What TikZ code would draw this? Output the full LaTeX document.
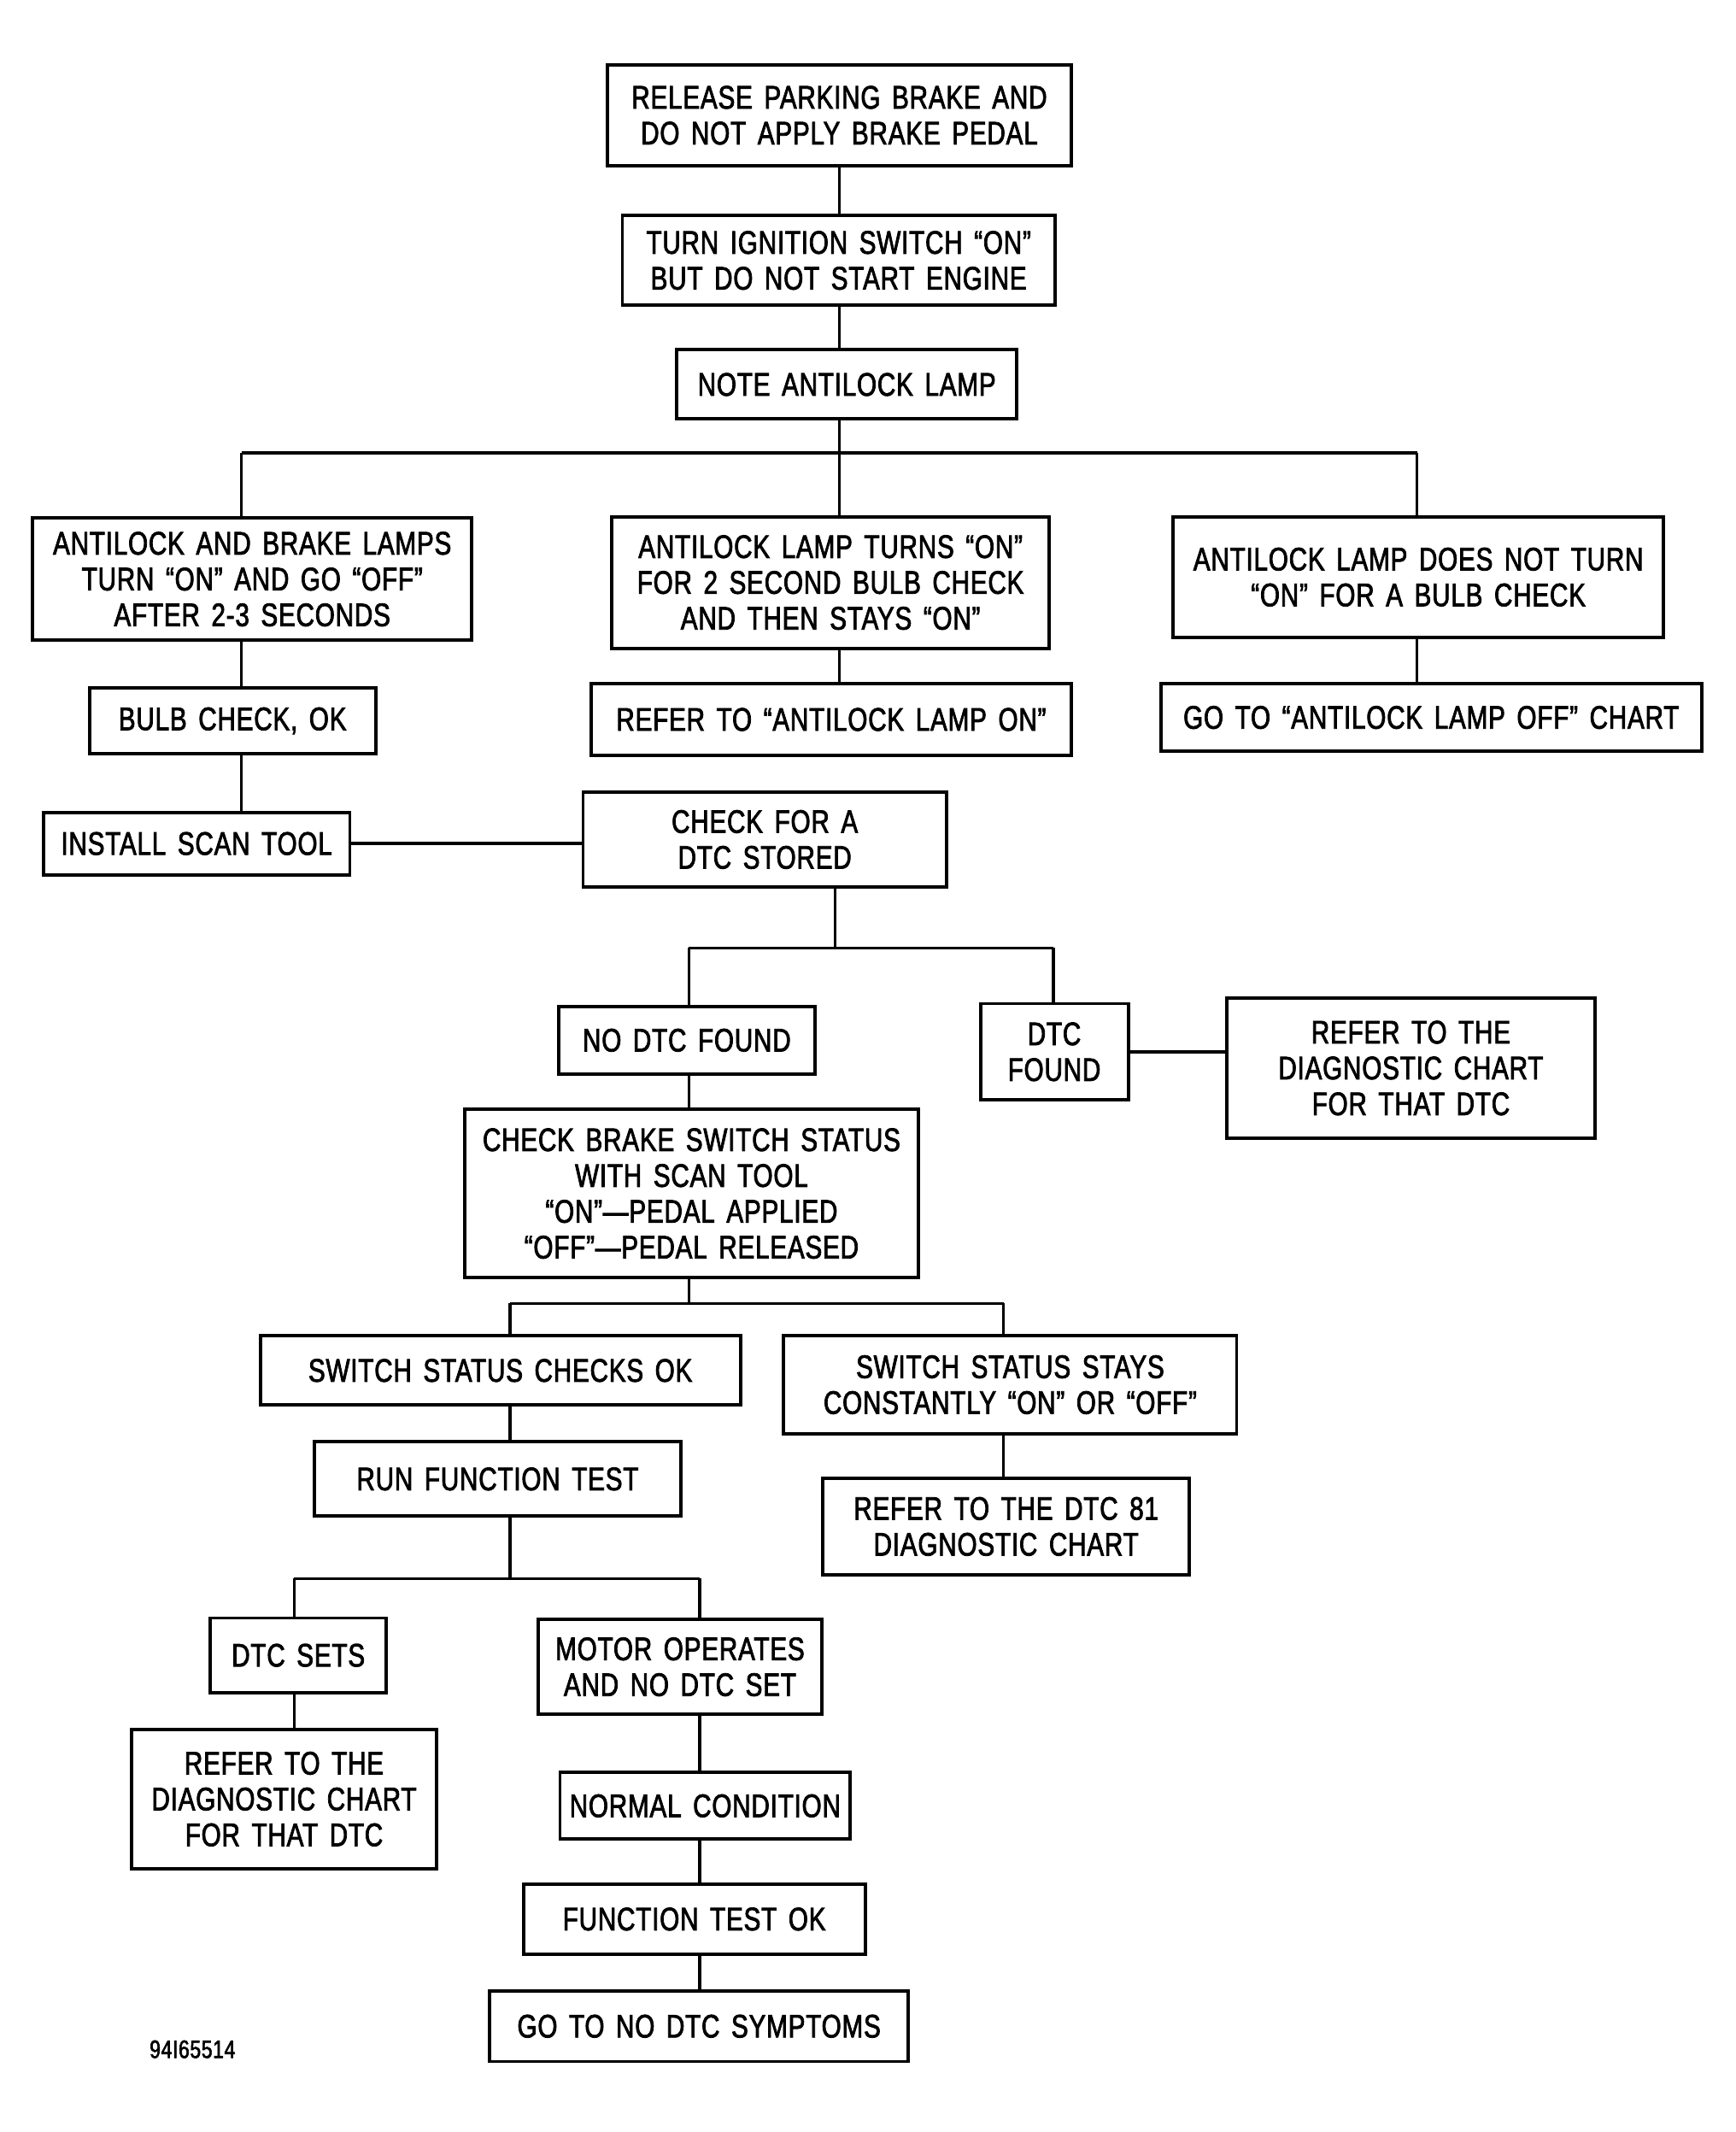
\documentclass[tikz,border=0pt]{standalone}
\usepackage{fontspec}
\setmainfont{Liberation Sans}[FakeStretch=0.78,LetterSpace=2,WordSpace=1.5,FakeBold=2]
\tikzset{
  bxat/.style n args={4}{at={({(#1+#3)/2},{(#2+#4)/2})}, minimum width={(#3-#1)*0.5pt}, minimum height={(#4-#2)*0.5pt}},
  box/.style={draw, line width=1.25pt, inner sep=0pt, align=center, font=\fontsize{12}{13.2}\selectfont},
  conn/.style={line width=1.1pt},
}
\begin{document}
\begin{tikzpicture}[x=0.5pt,y=-0.5pt]
\useasboundingbox[fill=white] (0,0) rectangle (1280,1572);
% boxes
\node[box, bxat={448}{48}{790}{122}] (b1) {RELEASE PARKING BRAKE AND\\DO NOT APPLY BRAKE PEDAL};
\node[box, bxat={459}{159}{778}{225}] (b2) {TURN IGNITION SWITCH “ON”\\BUT DO NOT START ENGINE};
\node[box, bxat={499}{258}{750}{309}] (b3) {NOTE ANTILOCK LAMP};
\node[box, bxat={24}{382}{348}{472}] (b4a) {ANTILOCK AND BRAKE LAMPS\\TURN “ON” AND GO “OFF”\\AFTER 2-3 SECONDS};
\node[box, bxat={451}{381}{774}{478}] (b4b) {ANTILOCK LAMP TURNS “ON”\\FOR 2 SECOND BULB CHECK\\AND THEN STAYS “ON”};
\node[box, bxat={865}{381}{1227}{470}] (b4c) {ANTILOCK LAMP DOES NOT TURN\\“ON” FOR A BULB CHECK};
\node[box, bxat={66}{507}{277}{556}] (b5a) {BULB CHECK, OK};
\node[box, bxat={436}{504}{790}{557}] (b5b) {REFER TO “ANTILOCK LAMP ON”};
\node[box, bxat={856}{504}{1255}{554}] (b5c) {GO TO “ANTILOCK LAMP OFF” CHART};
\node[box, bxat={32}{599}{258}{645}] (b6a) {INSTALL SCAN TOOL};
\node[box, bxat={430}{584}{698}{654}] (b6b) {CHECK FOR A\\DTC STORED};
\node[box, bxat={412}{742}{601}{792}] (b7a) {NO DTC FOUND};
\node[box, bxat={723}{740}{832}{811}] (b7b) {DTC\\FOUND};
\node[box, bxat={905}{736}{1176}{839}] (b7c) {REFER TO THE\\DIAGNOSTIC CHART\\FOR THAT DTC};
\node[box, bxat={343}{818}{677}{942}] (b8) {CHECK BRAKE SWITCH STATUS\\WITH SCAN TOOL\\“ON”—PEDAL APPLIED\\“OFF”—PEDAL RELEASED};
\node[box, bxat={192}{985}{546}{1036}] (b9a) {SWITCH STATUS CHECKS OK};
\node[box, bxat={578}{985}{912}{1057}] (b9b) {SWITCH STATUS STAYS\\CONSTANTLY “ON” OR “OFF”};
\node[box, bxat={232}{1063}{502}{1118}] (b10a) {RUN FUNCTION TEST};
\node[box, bxat={607}{1090}{877}{1161}] (b10b) {REFER TO THE DTC 81\\DIAGNOSTIC CHART};
\node[box, bxat={155}{1193}{285}{1248}] (b11a) {DTC SETS};
\node[box, bxat={397}{1194}{606}{1264}] (b11b) {MOTOR OPERATES\\AND NO DTC SET};
\node[box, bxat={97}{1275}{322}{1378}] (b12a) {REFER TO THE\\DIAGNOSTIC CHART\\FOR THAT DTC};
\node[box, bxat={413}{1307}{627}{1356}] (b12b) {NORMAL CONDITION};
\node[box, bxat={386}{1389}{638}{1441}] (b13) {FUNCTION TEST OK};
\node[box, bxat={361}{1468}{670}{1520}] (b14) {GO TO NO DTC SYMPTOMS};
\node[anchor=west, inner sep=0pt, font=\fontsize{9.3}{10}\selectfont] (code) at (110,1511) {94I65514};
% bus coordinates
\coordinate (d4a) at (178,334);
\coordinate (d4b) at (619,334);
\coordinate (d4c) at (1045,334);
\coordinate (d7a) at (508,699);
\coordinate (d7m) at (616,699);
\coordinate (d7b) at (777,699);
\coordinate (d9a) at (376,961);
\coordinate (d9m) at (508,961);
\coordinate (d9b) at (740,961);
\coordinate (d11a) at (217,1164);
\coordinate (d11m) at (376,1164);
\coordinate (d11b) at (516,1164);
% connectors
\draw[conn] (b1.south -| d4b) -- (b2.north -| d4b);
\draw[conn] (b2.south -| d4b) -- (b3.north -| d4b);
\draw[conn] (b3.south -| d4b) -- (d4b);
\draw[conn] (d4a) -- (d4c);
\draw[conn] (d4a) -- (b4a.north -| d4a);
\draw[conn] (d4b) -- (b4b.north -| d4b);
\draw[conn] (d4c) -- (b4c.north -| d4c);
\draw[conn] (b4a.south -| d4a) -- (b5a.north -| d4a);
\draw[conn] (b5a.south -| d4a) -- (b6a.north -| d4a);
\draw[conn] (b4b.south -| d4b) -- (b5b.north -| d4b);
\draw[conn] (b4c.south -| d4c) -- (b5c.north -| d4c);
\draw[conn] (b6a.east) -- (b6a.east -| b6b.west);
\draw[conn] (b6b.south -| d7m) -- (d7m);
\draw[conn] (d7a) -- (d7b);
\draw[conn] (d7a) -- (b7a.north -| d7a);
\draw[conn] (d7b) -- (b7b.north -| d7b);
\draw[conn] (b7b.east) -- (b7b.east -| b7c.west);
\draw[conn] (b7a.south -| d7a) -- (b8.north -| d7a);
\draw[conn] (b8.south -| d9m) -- (d9m);
\draw[conn] (d9a) -- (d9b);
\draw[conn] (d9a) -- (b9a.north -| d9a);
\draw[conn] (d9b) -- (b9b.north -| d9b);
\draw[conn] (b9a.south -| d9a) -- (b10a.north -| d9a);
\draw[conn] (b9b.south -| d9b) -- (b10b.north -| d9b);
\draw[conn] (b10a.south -| d11m) -- (d11m);
\draw[conn] (d11a) -- (d11b);
\draw[conn] (d11a) -- (b11a.north -| d11a);
\draw[conn] (d11b) -- (b11b.north -| d11b);
\draw[conn] (b11a.south -| d11a) -- (b12a.north -| d11a);
\draw[conn] (b11b.south -| d11b) -- (b12b.north -| d11b);
\draw[conn] (b12b.south -| d11b) -- (b13.north -| d11b);
\draw[conn] (b13.south -| d11b) -- (b14.north -| d11b);
\end{tikzpicture}
\end{document}
